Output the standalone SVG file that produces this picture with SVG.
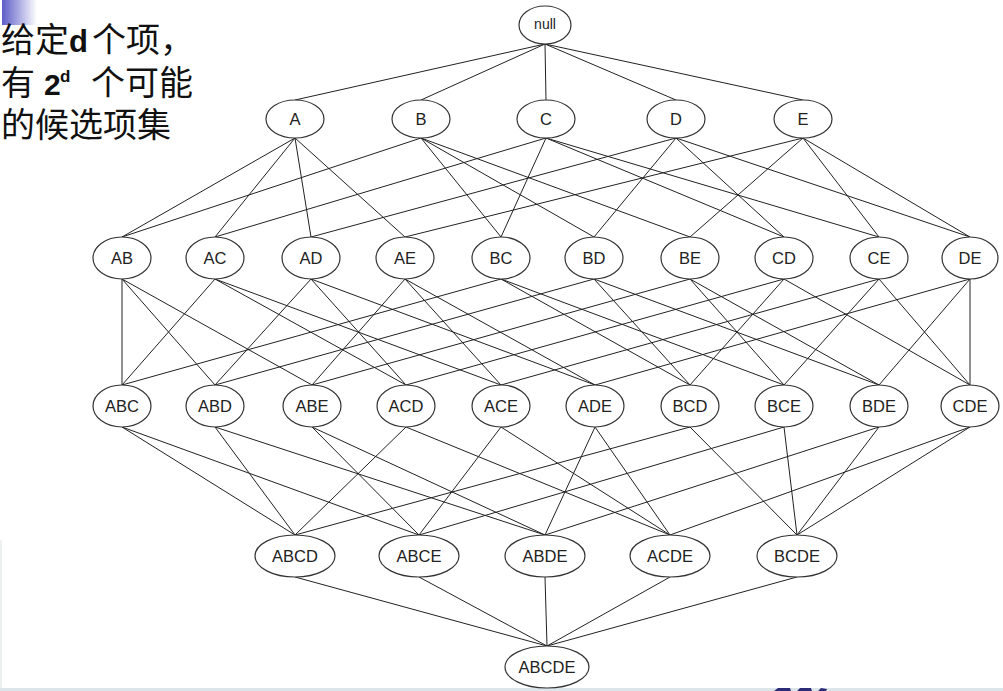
<svg xmlns="http://www.w3.org/2000/svg" width="1003" height="691" viewBox="0 0 1003 691">
<defs>
<linearGradient id="corner" x1="0" y1="0" x2="1" y2="0">
<stop offset="0" stop-color="#5c5cc8"/>
<stop offset="1" stop-color="#ffffff"/>
</linearGradient>
<style>
.n ellipse{fill:#fff;stroke:#333;stroke-width:1.2}
.n text{font-family:"Liberation Sans",Arial,sans-serif;font-size:16.5px;fill:#222;text-anchor:middle;dominant-baseline:central}
#edges line{stroke:#222;stroke-width:1}
.cjk{font-family:"Noto Sans CJK SC","Liberation Sans",sans-serif;font-size:34px;fill:#111}
.b{font-family:"Liberation Sans",Arial,sans-serif;font-weight:bold}
</style>
</defs>
<rect width="1003" height="691" fill="#fff"/>
<rect x="2" y="0" width="35" height="25" fill="url(#corner)"/>
<rect x="0" y="540" width="2" height="148" fill="#eef1f2"/>
<rect x="0" y="688" width="1003" height="3" fill="#dce5e9"/>
<path d="M774 691 L778 688 L790 688 L791 691 Z M797 691 L800 688 L811 688 L812 691 Z M818 691 L821 688 L827 689 L826 691 Z" fill="#2b2b78"/>

<g id="caption">
<text class="cjk"><tspan x="1" y="52">给定</tspan><tspan class="b" x="69" font-size="31">d</tspan><tspan x="92">个项，</tspan><tspan x="1" y="95">有</tspan><tspan class="b" x="44" font-size="30">2</tspan><tspan class="b" x="60" y="82" font-size="17">d</tspan><tspan x="91" y="95">个可能</tspan><tspan x="1" y="137">的候选项集</tspan></text>
</g>

<g id="edges">
<line x1="545" y1="44" x2="295" y2="100"/>
<line x1="545" y1="44" x2="421" y2="100"/>
<line x1="545" y1="44" x2="546" y2="100"/>
<line x1="545" y1="44" x2="676" y2="100"/>
<line x1="545" y1="44" x2="803" y2="100"/>

<line x1="295" y1="138" x2="122" y2="237"/>
<line x1="295" y1="138" x2="215" y2="237"/>
<line x1="295" y1="138" x2="311" y2="237"/>
<line x1="295" y1="138" x2="405" y2="237"/>
<line x1="421" y1="138" x2="122" y2="237"/>
<line x1="421" y1="138" x2="501" y2="237"/>
<line x1="421" y1="138" x2="594" y2="237"/>
<line x1="421" y1="138" x2="690" y2="237"/>
<line x1="546" y1="138" x2="215" y2="237"/>
<line x1="546" y1="138" x2="501" y2="237"/>
<line x1="546" y1="138" x2="784" y2="237"/>
<line x1="546" y1="138" x2="879" y2="237"/>
<line x1="676" y1="138" x2="311" y2="237"/>
<line x1="676" y1="138" x2="594" y2="237"/>
<line x1="676" y1="138" x2="784" y2="237"/>
<line x1="676" y1="138" x2="970" y2="237"/>
<line x1="803" y1="138" x2="405" y2="237"/>
<line x1="803" y1="138" x2="690" y2="237"/>
<line x1="803" y1="138" x2="879" y2="237"/>
<line x1="803" y1="138" x2="970" y2="237"/>

<line x1="122" y1="279" x2="122" y2="385"/>
<line x1="122" y1="279" x2="215" y2="385"/>
<line x1="122" y1="279" x2="312" y2="385"/>
<line x1="215" y1="279" x2="122" y2="385"/>
<line x1="215" y1="279" x2="406" y2="385"/>
<line x1="215" y1="279" x2="501" y2="385"/>
<line x1="311" y1="279" x2="215" y2="385"/>
<line x1="311" y1="279" x2="406" y2="385"/>
<line x1="311" y1="279" x2="595" y2="385"/>
<line x1="405" y1="279" x2="312" y2="385"/>
<line x1="405" y1="279" x2="501" y2="385"/>
<line x1="405" y1="279" x2="595" y2="385"/>
<line x1="501" y1="279" x2="122" y2="385"/>
<line x1="501" y1="279" x2="690" y2="385"/>
<line x1="501" y1="279" x2="784" y2="385"/>
<line x1="594" y1="279" x2="215" y2="385"/>
<line x1="594" y1="279" x2="690" y2="385"/>
<line x1="594" y1="279" x2="879" y2="385"/>
<line x1="690" y1="279" x2="312" y2="385"/>
<line x1="690" y1="279" x2="784" y2="385"/>
<line x1="690" y1="279" x2="879" y2="385"/>
<line x1="784" y1="279" x2="406" y2="385"/>
<line x1="784" y1="279" x2="690" y2="385"/>
<line x1="784" y1="279" x2="970" y2="385"/>
<line x1="879" y1="279" x2="501" y2="385"/>
<line x1="879" y1="279" x2="784" y2="385"/>
<line x1="879" y1="279" x2="970" y2="385"/>
<line x1="970" y1="279" x2="595" y2="385"/>
<line x1="970" y1="279" x2="879" y2="385"/>
<line x1="970" y1="279" x2="970" y2="385"/>

<line x1="122" y1="427" x2="295" y2="535"/>
<line x1="122" y1="427" x2="419" y2="535"/>
<line x1="215" y1="427" x2="295" y2="535"/>
<line x1="215" y1="427" x2="545" y2="535"/>
<line x1="312" y1="427" x2="419" y2="535"/>
<line x1="312" y1="427" x2="545" y2="535"/>
<line x1="406" y1="427" x2="295" y2="535"/>
<line x1="406" y1="427" x2="670" y2="535"/>
<line x1="501" y1="427" x2="419" y2="535"/>
<line x1="501" y1="427" x2="670" y2="535"/>
<line x1="595" y1="427" x2="545" y2="535"/>
<line x1="595" y1="427" x2="670" y2="535"/>
<line x1="690" y1="427" x2="295" y2="535"/>
<line x1="690" y1="427" x2="797" y2="535"/>
<line x1="784" y1="427" x2="419" y2="535"/>
<line x1="784" y1="427" x2="797" y2="535"/>
<line x1="879" y1="427" x2="545" y2="535"/>
<line x1="879" y1="427" x2="797" y2="535"/>
<line x1="970" y1="427" x2="670" y2="535"/>
<line x1="970" y1="427" x2="797" y2="535"/>

<line x1="295" y1="577" x2="547" y2="646"/>
<line x1="419" y1="577" x2="547" y2="646"/>
<line x1="545" y1="577" x2="547" y2="646"/>
<line x1="670" y1="577" x2="547" y2="646"/>
<line x1="797" y1="577" x2="547" y2="646"/>
</g>

<g id="n-null" class="n"><ellipse cx="545" cy="25" rx="26" ry="19"/><text x="545" y="24" style="font-size:14px">null</text></g>

<g id="n-A" class="n"><ellipse cx="295" cy="119" rx="29" ry="19"/><text x="295" y="119">A</text></g>
<g id="n-B" class="n"><ellipse cx="421" cy="119" rx="29" ry="19"/><text x="421" y="119">B</text></g>
<g id="n-C" class="n"><ellipse cx="546" cy="119" rx="29" ry="19"/><text x="546" y="119">C</text></g>
<g id="n-D" class="n"><ellipse cx="676" cy="119" rx="29" ry="19"/><text x="676" y="119">D</text></g>
<g id="n-E" class="n"><ellipse cx="803" cy="119" rx="29" ry="19"/><text x="803" y="119">E</text></g>

<g id="n-AB" class="n"><ellipse cx="122" cy="258" rx="29" ry="21"/><text x="122" y="258">AB</text></g>
<g id="n-AC" class="n"><ellipse cx="215" cy="258" rx="29" ry="21"/><text x="215" y="258">AC</text></g>
<g id="n-AD" class="n"><ellipse cx="311" cy="258" rx="29" ry="21"/><text x="311" y="258">AD</text></g>
<g id="n-AE" class="n"><ellipse cx="405" cy="258" rx="29" ry="21"/><text x="405" y="258">AE</text></g>
<g id="n-BC" class="n"><ellipse cx="501" cy="258" rx="29" ry="21"/><text x="501" y="258">BC</text></g>
<g id="n-BD" class="n"><ellipse cx="594" cy="258" rx="29" ry="21"/><text x="594" y="258">BD</text></g>
<g id="n-BE" class="n"><ellipse cx="690" cy="258" rx="29" ry="21"/><text x="690" y="258">BE</text></g>
<g id="n-CD" class="n"><ellipse cx="784" cy="258" rx="29" ry="21"/><text x="784" y="258">CD</text></g>
<g id="n-CE" class="n"><ellipse cx="879" cy="258" rx="29" ry="21"/><text x="879" y="258">CE</text></g>
<g id="n-DE" class="n"><ellipse cx="970" cy="258" rx="28" ry="21"/><text x="970" y="258">DE</text></g>

<g id="n-ABC" class="n"><ellipse cx="122" cy="406" rx="29" ry="21"/><text x="122" y="406">ABC</text></g>
<g id="n-ABD" class="n"><ellipse cx="215" cy="406" rx="29" ry="21"/><text x="215" y="406">ABD</text></g>
<g id="n-ABE" class="n"><ellipse cx="312" cy="406" rx="29" ry="21"/><text x="312" y="406">ABE</text></g>
<g id="n-ACD" class="n"><ellipse cx="406" cy="406" rx="29" ry="21"/><text x="406" y="406">ACD</text></g>
<g id="n-ACE" class="n"><ellipse cx="501" cy="406" rx="29" ry="21"/><text x="501" y="406">ACE</text></g>
<g id="n-ADE" class="n"><ellipse cx="595" cy="406" rx="29" ry="21"/><text x="595" y="406">ADE</text></g>
<g id="n-BCD" class="n"><ellipse cx="690" cy="406" rx="29" ry="21"/><text x="690" y="406">BCD</text></g>
<g id="n-BCE" class="n"><ellipse cx="784" cy="406" rx="29" ry="21"/><text x="784" y="406">BCE</text></g>
<g id="n-BDE" class="n"><ellipse cx="879" cy="406" rx="29" ry="21"/><text x="879" y="406">BDE</text></g>
<g id="n-CDE" class="n"><ellipse cx="970" cy="406" rx="29" ry="21"/><text x="970" y="406">CDE</text></g>

<g id="n-ABCD" class="n"><ellipse cx="295" cy="556" rx="40" ry="21"/><text x="295" y="556">ABCD</text></g>
<g id="n-ABCE" class="n"><ellipse cx="419" cy="556" rx="40" ry="21"/><text x="419" y="556">ABCE</text></g>
<g id="n-ABDE" class="n"><ellipse cx="545" cy="556" rx="40" ry="21"/><text x="545" y="556">ABDE</text></g>
<g id="n-ACDE" class="n"><ellipse cx="670" cy="556" rx="40" ry="21"/><text x="670" y="556">ACDE</text></g>
<g id="n-BCDE" class="n"><ellipse cx="797" cy="556" rx="40" ry="21"/><text x="797" y="556">BCDE</text></g>

<g id="n-ABCDE" class="n"><ellipse cx="547" cy="667" rx="42" ry="21"/><text x="547" y="667">ABCDE</text></g>
</svg>
